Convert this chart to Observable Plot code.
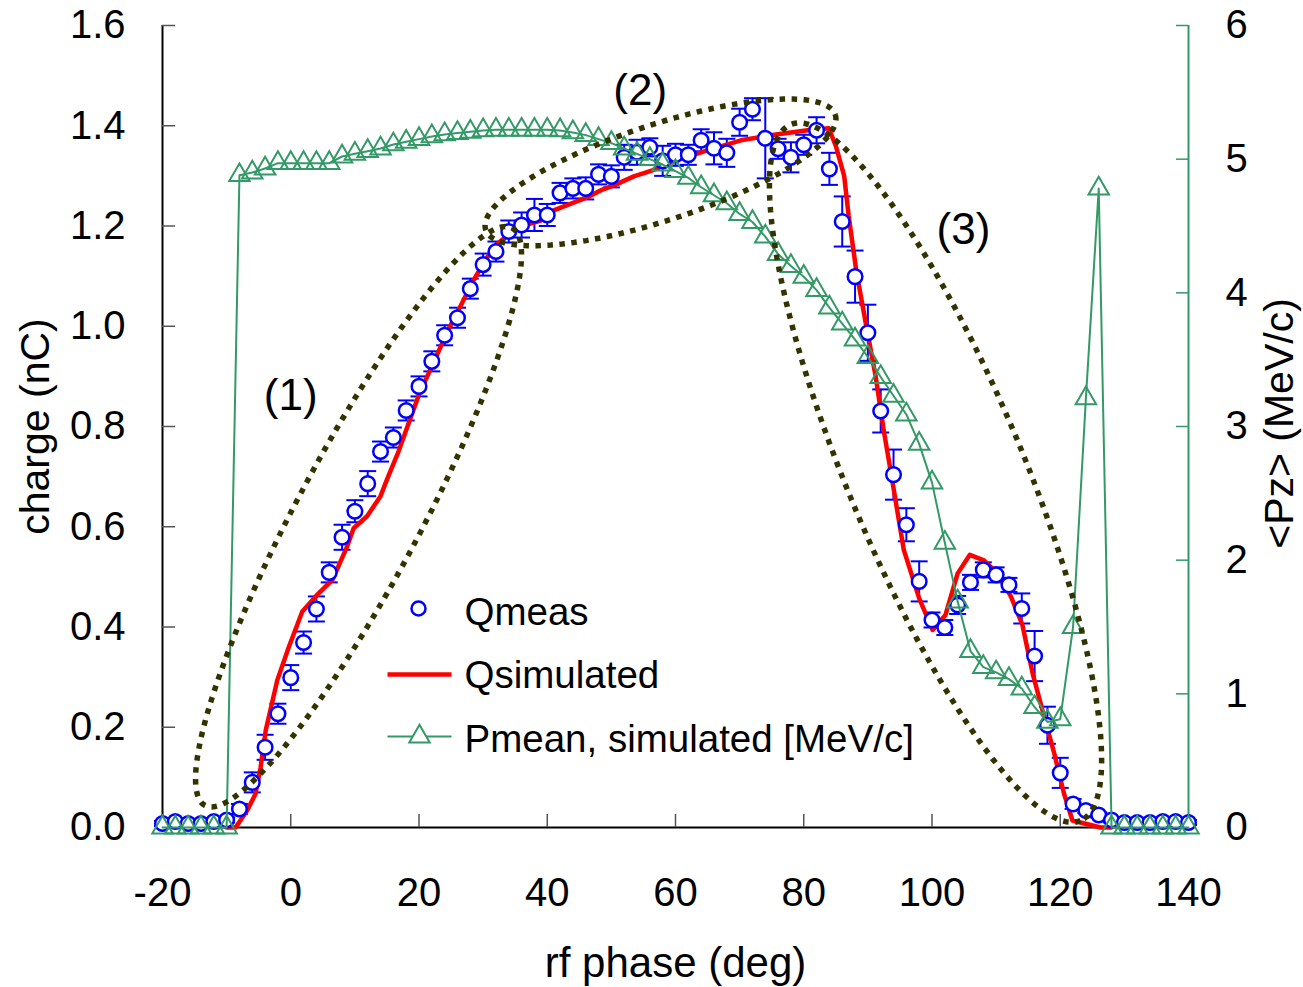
<!DOCTYPE html>
<html><head><meta charset="utf-8">
<script src="https://cdn.jsdelivr.net/npm/d3@7"></script>
<script src="https://cdn.jsdelivr.net/npm/@observablehq/plot@0.6"></script>
<style>body{margin:0;background:#fff} svg{display:block}</style>
</head><body><div id="chart"></div>
<script>
// ---- data ----
const phase = [-20,-18,-16,-14,-12,-10,-8,-6,-4,-2,0,2,4,6,8,10,12,14,16,18,20,22,24,26,28,30,32,34,36,38,40,42,44,46,48,50,52,54,56,58,60,62,64,66,68,70,72,74,76,78,80,82,84,86,88,90,92,94,96,98,100,102,104,106,108,110,112,114,116,118,120,122,124,126,128,130,132,134,136,138,140];
const qMeas = [0.008,0.012,0.008,0.008,0.012,0.015,0.037,0.090,0.160,0.227,
  0.299,0.369,0.436,0.509,0.579,0.631,0.686,0.750,0.778,0.832,
  0.880,0.930,0.982,1.017,1.075,1.123,1.149,1.189,1.202,1.222,
  1.222,1.266,1.275,1.275,1.303,1.299,1.337,1.347,1.357,1.330,
  1.342,1.342,1.371,1.355,1.346,1.407,1.433,1.375,1.354,1.337,
  1.362,1.391,1.314,1.209,1.099,0.987,0.831,0.704,0.604,0.491,
  0.414,0.399,0.444,0.489,0.514,0.504,0.484,0.437,0.342,0.204,
  0.109,0.047,0.034,0.025,0.015,0.010,0.010,0.010,0.012,0.012,0.010];
const qErr = [0.005,0.005,0.005,0.005,0.005,0.005,
  0.010,0.020,0.025,0.020,0.025,0.022,0.025,0.020,0.025,0.022,
  0.025,0.020,0.020,0.020,0.020,0.020,0.020,0.020,0.020,0.022,
  0.020,0.022,0.025,0.032,0.022,0.020,0.020,0.022,0.020,0.022,
  0.025,0.025,0.018,0.030,0.022,0.020,0.022,0.032,0.028,0.027,
  0.022,0.080,0.020,0.030,0.020,0.026,0.032,0.050,0.052,0.056,
  0.043,0.050,0.033,0.040,0.015,0.015,0.018,0.015,0.015,0.015,
  0.014,0.030,0.050,0.037,0.030,0.010,
  0.005,0.005,0.005,0.005,0.005,0.005,0.005,0.005,0.005];
const pMean = [0,0,0,0,0,0,
  4.88,4.90,4.93,4.97,4.97,4.97,4.97,4.97,5.02,5.04,
  5.06,5.08,5.11,5.13,5.15,5.17,5.185,5.195,5.205,5.215,
  5.22,5.22,5.22,5.22,5.22,5.215,5.20,5.18,5.15,5.12,
  5.08,5.04,5.00,4.96,4.91,4.86,4.79,4.73,4.67,4.59,
  4.53,4.42,4.29,4.20,4.12,4.02,3.89,3.77,3.65,3.52,
  3.37,3.23,3.09,2.87,2.58,2.13,1.69,1.32,1.20,1.16,
  1.11,1.04,0.90,0.79,0.81,1.50,3.21,4.78,
  0,0,0,0,0,0,0];
const simPhase = [-10,-8.6,-6.8,-5.5,-4.7,-3.9,-2.1,-0.3,1.8,4.1,6.5,8.8,9.8,11.9,14,15,16.8,20,22,24.6,26.5,28.3,30.1,31.9,33.8,36.3,39,41,43.6,46.2,48.3,50.4,53.5,56.4,60,65,70.2,75.4,80.6,83.9,85,86.3,87,88.2,89.7,91.2,92.5,93.7,95.6,98,100.1,102.1,104,105.9,108.1,110.2,112.3,114.1,115.7,117.5,119,120.6,121.9,126.3,128];
const simQ = [0,0,0.034,0.067,0.12,0.194,0.294,0.36,0.431,0.464,0.494,0.561,0.597,0.621,0.661,0.694,0.75,0.864,0.92,0.994,1.041,1.087,1.127,1.161,1.181,1.201,1.211,1.231,1.244,1.257,1.271,1.281,1.299,1.311,1.331,1.351,1.371,1.382,1.391,1.395,1.36,1.30,1.221,1.11,1.004,0.901,0.79,0.70,0.554,0.457,0.394,0.424,0.507,0.544,0.533,0.507,0.461,0.404,0.307,0.221,0.151,0.067,0.014,0,0];
const xTicks = [-20,0,20,40,60,80,100,120,140];
const yTicks = [0,0.2,0.4,0.6,0.8,1.0,1.2,1.4,1.6];
const pTicks = [0,1,2,3,4,5,6];
const seriesNames = ["Qmeas","Qsimulated","Pmean, simulated [MeV/c]"];
const annotLabels = ["(1)","(2)","(3)"];
const annotX = [0, 54.5, 104.9];
const annotY = [0.862, 1.47, 1.193];
// ellipse annotations: centre in data units, semi-axes (px) and screen angle (deg)
const ellCx = [10.57, 57.66, 100.55];
const ellCy = [0.620, 1.307, 0.708];
const ellA = [327, 184, 377];
const ellB = [62, 48, 88];
const ellAng = [-62, -18.2, 67.4];

// ---- layout ----
const W = 1303, H = 987, ML = 162, MR = 115, MT = 25, MB = 160;
const XMIN = -20, XMAX = 140, QMAX = 1.6, PMAX = 6;
const kx = (W - ML - MR) / (XMAX - XMIN), ky = (H - MT - MB) / QMAX;
const BLUE = "#0000ff", RED = "#ff0000", GREEN = "#339966", DOT = "#333300";

const meas = phase.map((p, i) => ({p, q: qMeas[i], e: qErr[i]}));
const sim = simPhase.map((p, i) => ({p, q: simQ[i]}));
const pm = phase.map((p, i) => ({p, q: pMean[i] * QMAX / PMAX}));
const annots = annotLabels.map((t, i) => ({t, x: annotX[i], y: annotY[i]}));

const ellPts = [];
ellCx.forEach((cx, id) => {
  const th = ellAng[id] * Math.PI / 180, c = Math.cos(th), s = Math.sin(th);
  for (let i = 0; i <= 240; i++) {
    const t = i / 240 * 2 * Math.PI;
    const u = ellA[id] * Math.cos(t), v = ellB[id] * Math.sin(t);
    const dxp = u * c - v * s, dyp = u * s + v * c;
    ellPts.push({id, p: cx + dxp / kx, q: ellCy[id] - dyp / ky});
  }
});

const capW = 8.5 / kx;
const lineSym = {draw(ctx) { ctx.moveTo(-32, 0); ctx.lineTo(32, 0); }};
const titles = [
  {t: "charge (nC)", x: XMIN - 127 / kx, y: QMAX / 2},
  {t: "<Pz> (MeV/c)", x: XMAX + 91 / kx, y: QMAX / 2 + 3 / ky}
];

const plot = Plot.plot({
  width: W, height: H,
  marginLeft: ML, marginRight: MR, marginTop: MT, marginBottom: MB,
  style: {fontFamily: "'Liberation Sans', Arial, sans-serif", fontSize: "40px", background: "white", color: "black"},
  x: {domain: [XMIN, XMAX]},
  y: {domain: [0, QMAX]},
  marks: [
    // axes lines & ticks
    Plot.ruleX([XMIN], {stroke: "black", strokeWidth: 2}),
    Plot.ruleY([0], {stroke: "black", strokeWidth: 2}),
    Plot.ruleX([XMAX], {stroke: GREEN, strokeWidth: 2}),
    Plot.ruleY(yTicks, {y: d => d, x1: XMIN, x2: XMIN + 13 / kx, stroke: "#555", strokeWidth: 1.5}),
    Plot.ruleX(xTicks, {x: d => d, y1: 0, y2: 13 / ky, stroke: "#555", strokeWidth: 1.5}),
    Plot.ruleY(pTicks, {y: d => d * QMAX / PMAX, x1: XMAX - 12 / kx, x2: XMAX, stroke: GREEN, strokeWidth: 1.5}),
    Plot.axisY({ticks: yTicks, tickSize: 0, tickPadding: 37, tickFormat: d3.format(".1f"), label: null}),
    Plot.axisX({ticks: xTicks, tickSize: 0, tickPadding: 50, tickFormat: d => String(d), label: null}),
    Plot.axisY({anchor: "right", ticks: pTicks.map(k => k * QMAX / PMAX), tickSize: 0, tickPadding: 37,
      tickFormat: d => String(Math.round(d * PMAX / QMAX)), label: null}),
    // error bars
    Plot.ruleX(meas, {x: "p", y1: d => d.q - d.e, y2: d => d.q + d.e, stroke: BLUE, strokeWidth: 2}),
    Plot.link(meas, {x1: d => d.p - capW, x2: d => d.p + capW, y1: d => d.q + d.e, y2: d => d.q + d.e, stroke: BLUE, strokeWidth: 2}),
    Plot.link(meas, {x1: d => d.p - capW, x2: d => d.p + capW, y1: d => d.q - d.e, y2: d => d.q - d.e, stroke: BLUE, strokeWidth: 2}),
    // simulated charge
    Plot.line(sim, {x: "p", y: "q", stroke: RED, strokeWidth: 4.5, strokeLinejoin: "round"}),
    // measured charge
    Plot.dot(meas, {x: "p", y: "q", r: 7.3, stroke: BLUE, strokeWidth: 2.5, fill: "white"}),
    // Pmean
    Plot.line(pm, {x: "p", y: "q", stroke: GREEN, strokeWidth: 2}),
    Plot.dot(pm, {x: "p", y: "q", symbol: "triangle", r: 7.6, stroke: GREEN, strokeWidth: 2, fill: "none"}),
    // dotted ellipses
    Plot.line(ellPts, {x: "p", y: "q", z: "id", stroke: DOT, strokeWidth: 5.5, strokeDasharray: "5.5,6.5", strokeLinecap: "butt", strokeLinejoin: "miter", curve: "linear"}),
    // annotations
    Plot.text(annots, {x: "x", y: "y", text: "t", fontSize: 44, fill: "black"}),
    // legend
    Plot.dot([0], {frameAnchor: "top-left", dx: 256, dy: 583, r: 7, stroke: BLUE, strokeWidth: 2.5, fill: "white"}),
    Plot.dot([0], {frameAnchor: "top-left", dx: 257, dy: 649, symbol: lineSym, stroke: RED, strokeWidth: 4.5, fill: "none"}),
    Plot.dot([0], {frameAnchor: "top-left", dx: 257, dy: 711, symbol: lineSym, stroke: GREEN, strokeWidth: 2, fill: "none"}),
    Plot.dot([0], {frameAnchor: "top-left", dx: 257, dy: 711, symbol: "triangle", r: 7.6, stroke: GREEN, strokeWidth: 2, fill: "white"}),
    Plot.text([seriesNames[0]], {frameAnchor: "top-left", dx: 302, dy: 587, textAnchor: "start", lineAnchor: "middle", fontSize: 38.5}),
    Plot.text([seriesNames[1]], {frameAnchor: "top-left", dx: 302, dy: 650, textAnchor: "start", lineAnchor: "middle", fontSize: 38.5}),
    Plot.text([seriesNames[2]], {frameAnchor: "top-left", dx: 302, dy: 714, textAnchor: "start", lineAnchor: "middle", fontSize: 38.5}),
    // axis titles
    Plot.text(titles, {x: "x", y: "y", text: "t", rotate: -90, fontSize: 41}),
    Plot.text(["rf phase (deg)"], {frameAnchor: "bottom", dy: 136, lineAnchor: "middle", fontSize: 42})
  ]
});
document.getElementById("chart").appendChild(plot);
</script>
</body></html>
